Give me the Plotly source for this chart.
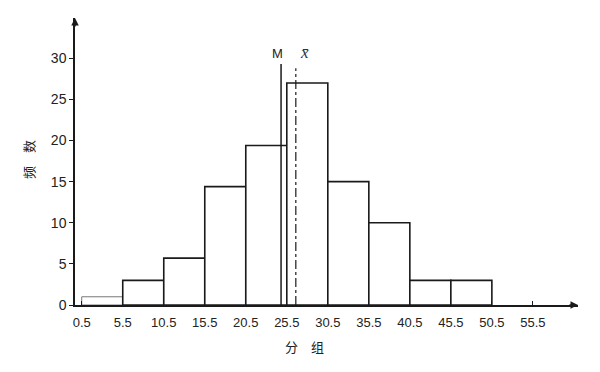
import plotly.graph_objects as go

# Data
bin_left = [0.5, 5.5, 10.5, 15.5, 20.5, 25.5, 30.5, 35.5, 40.5, 45.5]
bin_width = 5
freq = [1, 3, 5.7, 14.4, 19.4, 27, 15, 10, 3, 3]
x_ticks = [0.5, 5.5, 10.5, 15.5, 20.5, 25.5, 30.5, 35.5, 40.5, 45.5, 50.5, 55.5]
y_ticks = [0, 5, 10, 15, 20, 25, 30]
median_val = 24.8
median_top = 29.3
mean_val = 26.6
mean_top = 28.8

mids = [b + bin_width / 2 for b in bin_left]

fig = go.Figure()
# first bar drawn lighter
fig.add_trace(go.Bar(x=mids[:1], y=freq[:1], width=[bin_width],
                     marker=dict(color="white", line=dict(color="#777", width=1)),
                     hoverinfo="skip"))
fig.add_trace(go.Bar(x=mids[1:], y=freq[1:], width=[bin_width] * (len(mids) - 1),
                     marker=dict(color="white", line=dict(color="#1a1a1a", width=1.6)),
                     hoverinfo="skip"))

fig.add_shape(type="line", x0=median_val, x1=median_val, y0=0, y1=median_top,
              xref="x", yref="y", line=dict(color="#1a1a1a", width=1.5))
fig.add_shape(type="line", x0=mean_val, x1=mean_val, y0=0, y1=mean_top,
              xref="x", yref="y", line=dict(color="#1a1a1a", width=1.2, dash="dashdot"))

fig.add_annotation(x=median_val, y=median_top, xref="x", yref="y", text="M",
                   showarrow=False, xanchor="center", yanchor="bottom", xshift=-4, yshift=1,
                   font=dict(family="Liberation Sans, Arial", size=13, color="#222"))
fig.add_annotation(x=mean_val, y=mean_top, xref="x", yref="y", text="<i>x\u0304</i>",
                   showarrow=False, xanchor="center", yanchor="bottom", xshift=9, yshift=4,
                   font=dict(family="Liberation Serif, DejaVu Serif", size=17, color="#333"))

# axis arrows
fig.add_annotation(x=1, y=0, xref="paper", yref="paper", ax=-10, ay=0, text="",
                   showarrow=True, arrowhead=2, arrowsize=1, arrowwidth=1.5, arrowcolor="#1a1a1a")
fig.add_annotation(x=0, y=1, xref="paper", yref="paper", ax=0, ay=10, text="",
                   showarrow=True, arrowhead=2, arrowsize=1, arrowwidth=1.5, arrowcolor="#1a1a1a")

# axis titles
fig.add_annotation(x=-0.0934, y=0.505, xref="paper", yref="paper", text="频\u3000数", textangle=-90,
                   showarrow=False, xanchor="center", yanchor="middle",
                   font=dict(family="Noto Sans CJK SC", size=13, color="#222"))
fig.add_annotation(x=0.456, y=-0.146, xref="paper", yref="paper", text="分\u3000组",
                   showarrow=False, xanchor="center", yanchor="middle",
                   font=dict(family="Noto Sans CJK SC", size=13, color="#222"))

fig.update_layout(
    width=600, height=372,
    margin=dict(l=75, r=22, t=18, b=67),
    paper_bgcolor="white", plot_bgcolor="white",
    showlegend=False, barmode="overlay",
    xaxis=dict(range=[-0.32, 61], tickvals=x_ticks, ticktext=[str(v) for v in x_ticks],
               showgrid=False, zeroline=False, showline=True, linecolor="#1a1a1a", linewidth=1.5,
               ticks="inside", ticklen=4, tickcolor="#1a1a1a", ticklabelstandoff=5,
               tickfont=dict(family="Liberation Sans, Arial", size=13, color="#222")),
    yaxis=dict(range=[0, 34.9], tickvals=y_ticks, showgrid=False, zeroline=False,
               showline=True, linecolor="#1a1a1a", linewidth=1.5,
               ticks="outside", ticklen=4, tickcolor="#1a1a1a",
               tickfont=dict(family="Liberation Sans, Arial", size=14, color="#222")),
)

fig.write_html("out.html")
